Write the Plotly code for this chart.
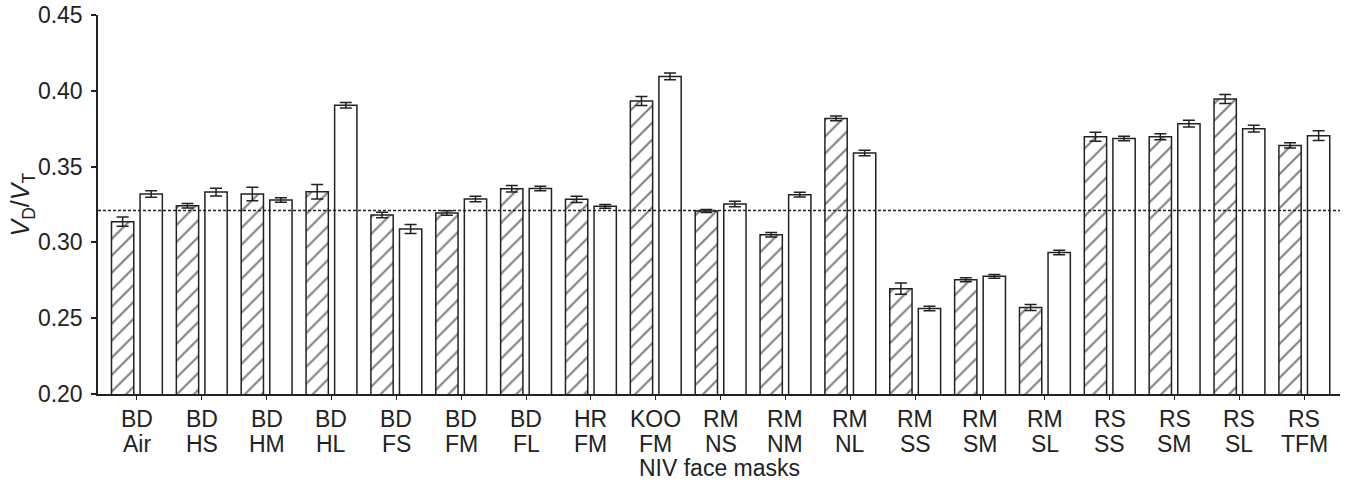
import plotly.graph_objects as go

top_labels = ["BD", "BD", "BD", "BD", "BD", "BD", "BD", "HR", "KOO", "RM", "RM", "RM",
              "RM", "RM", "RM", "RS", "RS", "RS", "RS"]
bottom_labels = ["Air", "HS", "HM", "HL", "FS", "FM", "FL", "FM", "FM", "NS", "NM", "NL",
                 "SS", "SM", "SL", "SS", "SM", "SL", "TFM"]
categories = [f"{a} {b}" for a, b in zip(top_labels, bottom_labels)]

hatched_values = [0.3137, 0.3242, 0.3319, 0.3334, 0.3181, 0.3194, 0.3354, 0.3284, 0.3933, 0.3207,
                  0.3051, 0.3818, 0.2695, 0.2754, 0.2570, 0.3697, 0.3697, 0.3946, 0.3640]
hatched_errors = [0.0030, 0.0015, 0.0045, 0.0048, 0.0018, 0.0015, 0.0022, 0.0020, 0.0030, 0.0010,
                  0.0015, 0.0015, 0.0037, 0.0013, 0.0020, 0.0030, 0.0020, 0.0030, 0.0018]
open_values = [0.3319, 0.3332, 0.3280, 0.3904, 0.3088, 0.3286, 0.3356, 0.3238, 0.4095, 0.3253,
               0.3315, 0.3590, 0.2564, 0.2776, 0.2934, 0.3686, 0.3783, 0.3750, 0.3704]
open_errors = [0.0022, 0.0026, 0.0015, 0.0018, 0.0030, 0.0018, 0.0015, 0.0012, 0.0022, 0.0018,
               0.0015, 0.0018, 0.0015, 0.0013, 0.0015, 0.0015, 0.0022, 0.0022, 0.0032]
reference_line = 0.321
y_ticks = [0.20, 0.25, 0.30, 0.35, 0.40, 0.45]

FONT = "Liberation Sans, Arial, Helvetica, sans-serif"
FS = 23
INK = "#222222"

fig = go.Figure()
fig.add_trace(go.Bar(
    x=categories, y=hatched_values,
    marker=dict(color="white", line=dict(color=INK, width=1.5),
                pattern=dict(shape="/", fgcolor="#000000", bgcolor="white", size=12, solidity=0.17)),
    error_y=dict(type="data", array=hatched_errors, color=INK, thickness=1.5, width=6),
    showlegend=False,
))
fig.add_trace(go.Bar(
    x=categories, y=open_values,
    marker=dict(color="white", line=dict(color=INK, width=1.5)),
    error_y=dict(type="data", array=open_errors, color=INK, thickness=1.5, width=6),
    showlegend=False,
))

fig.add_shape(type="line", xref="paper", yref="y", x0=0, x1=1,
              y0=reference_line, y1=reference_line,
              line=dict(color=INK, width=1.5, dash="3px,2px"), layer="above")

annotations = []
for cat, t, b in zip(categories, top_labels, bottom_labels):
    annotations.append(dict(x=cat, xref="x", y=0, yref="paper", text=t, showarrow=False,
                            yanchor="top", yshift=-10, font=dict(size=FS, color=INK, family=FONT)))
    annotations.append(dict(x=cat, xref="x", y=0, yref="paper", text=b, showarrow=False,
                            yanchor="top", yshift=-35, font=dict(size=FS, color=INK, family=FONT)))
annotations.append(dict(x=0.5, xref="paper", y=0, yref="paper", text="NIV face masks",
                        showarrow=False, yanchor="top", yshift=-59,
                        font=dict(size=FS, color=INK, family=FONT)))
annotations.append(dict(x=-0.0612, xref="paper", y=0.5, yref="paper",
                        text="<i>V</i><sub>D</sub>/<i>V</i><sub>T</sub>", textangle=-90,
                        showarrow=False, xanchor="center", yanchor="middle",
                        font=dict(size=FS + 2, color=INK, family=FONT)))

fig.update_layout(
    width=1348, height=485,
    margin=dict(l=98, r=8, t=15, b=91, autoexpand=False),
    paper_bgcolor="white", plot_bgcolor="white",
    barmode="group", bargap=0.119, bargroupgap=0.22,
    font=dict(family=FONT, size=FS, color=INK),
    annotations=annotations,
    xaxis=dict(type="category", range=[-0.6, 18.55], showline=True, linecolor=INK, linewidth=1.5,
               ticks="outside", ticklen=4, tickcolor=INK, tickwidth=1.2, automargin=False,
               showticklabels=False, showgrid=False, zeroline=False),
    yaxis=dict(range=[0.20, 0.45], tickvals=y_ticks, ticktext=[f"{v:.2f}" for v in y_ticks],
               showline=True, linecolor=INK, linewidth=1.5, automargin=False,
               ticks="outside", ticklen=5, tickcolor=INK, tickwidth=1.5, ticklabelstandoff=4,
               showgrid=False, zeroline=False, tickfont=dict(size=FS, color=INK, family=FONT)),
)

fig.write_html("out.html", config={"displayModeBar": False},
               post_script="document.body.style.margin='0';document.body.style.overflow='hidden';")
